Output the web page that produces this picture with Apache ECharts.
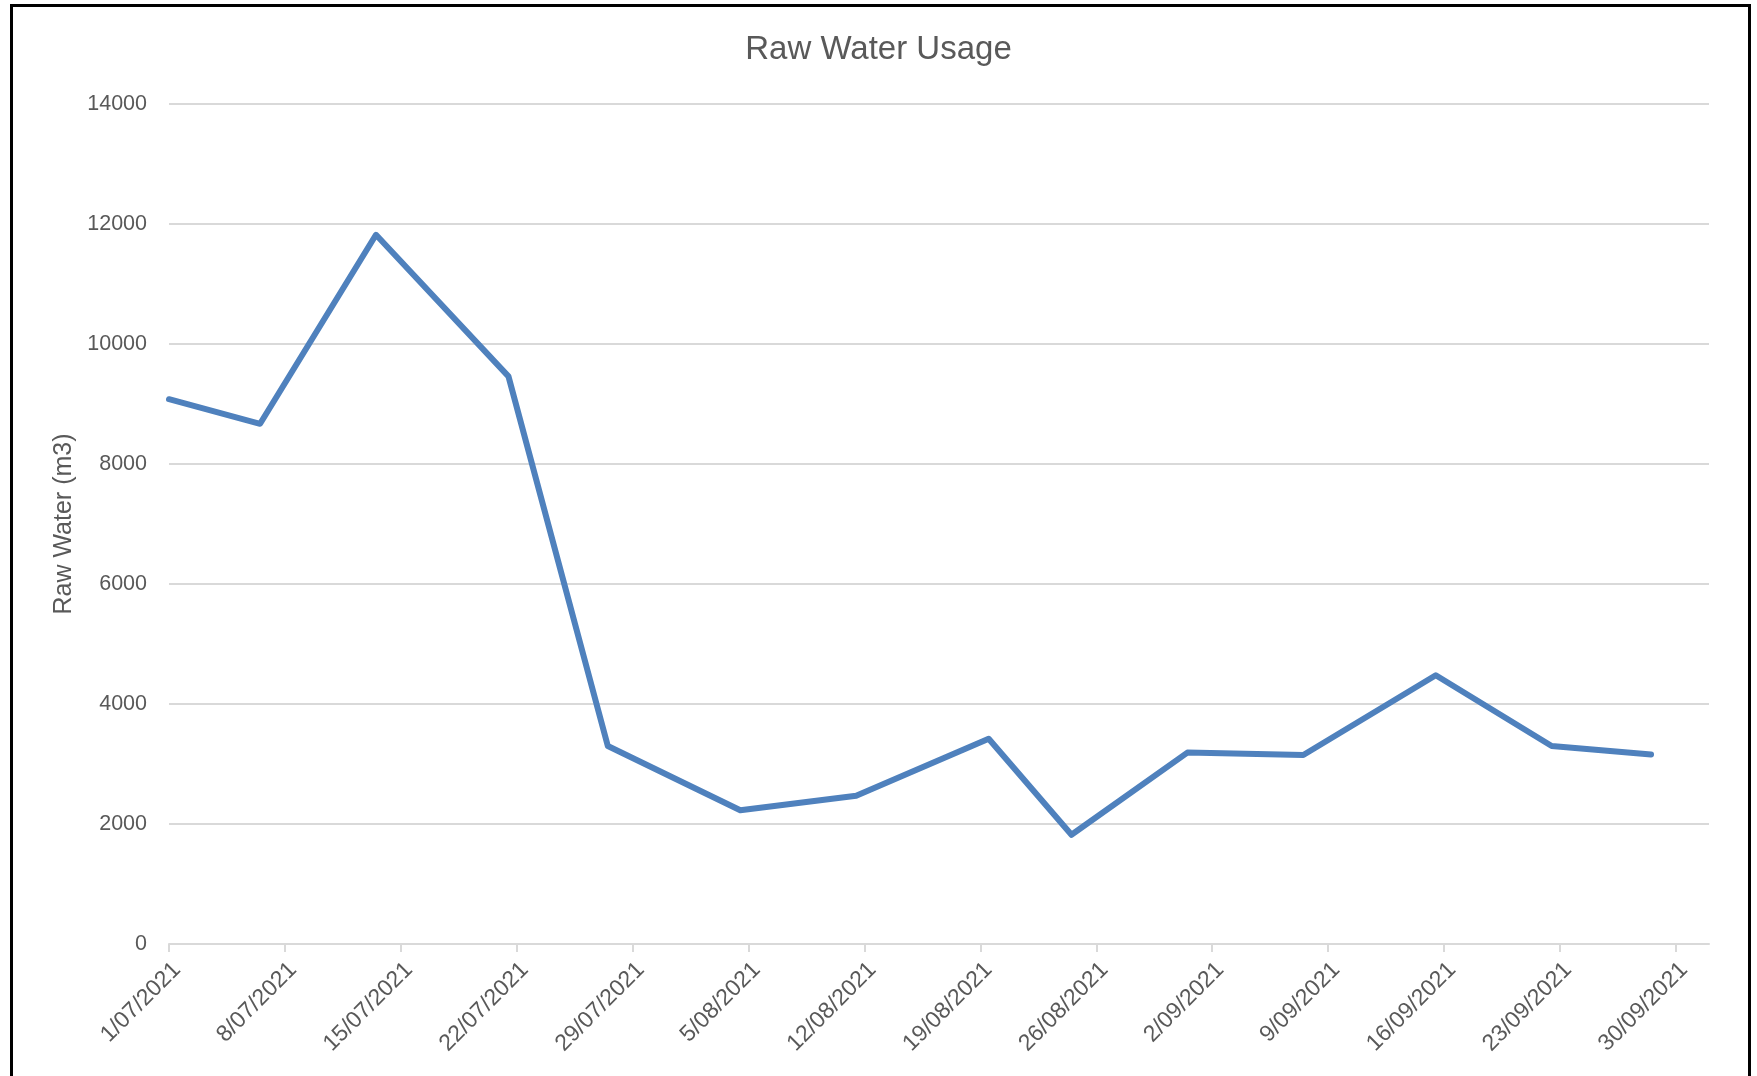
<!DOCTYPE html>
<html>
<head>
<meta charset="utf-8">
<script src="https://cdn.jsdelivr.net/npm/echarts@6/dist/echarts.min.js"></script>
<style>
  html, body { margin: 0; padding: 0; background: #fff; }
  #chart { width: 1757px; height: 1076px; }
  .frame {
    position: absolute; left: 10px; top: 4px; width: 1741px; height: 1100px;
    box-sizing: border-box; border: 3px solid #000; pointer-events: none;
  }
</style>
</head>
<body>
<div id="chart"></div>
<div class="frame"></div>
<script>
// dates (points sit between the weekly ticks)
const dates = ['2021-07-01T00:00', '2021-07-06T12:00', '2021-07-13T12:00', '2021-07-21T12:00',
  '2021-07-27T12:00', '2021-08-04T12:00', '2021-08-11T12:00', '2021-08-19T12:00',
  '2021-08-24T12:00', '2021-08-31T12:00', '2021-09-07T12:00', '2021-09-15T12:00',
  '2021-09-22T12:00', '2021-09-28T12:00']
const usage = [9080, 8670, 11820, 9460, 3300, 2230, 2470, 3420, 1820, 3190, 3150, 4480, 3300, 3160]
const startDate = '2021-07-01T00:00'
const axisEndDay = 93   // axis runs a little past 30/09
const yTicks = { min: 0, max: 14000, step: 2000 }

const DAY = 86400000
const t0 = Date.parse(startDate + 'Z')
const toDay = (s) => (Date.parse(s + 'Z') - t0) / DAY

// d/MM/yyyy like the excel axis
const fmtDay = (v) => {
  if (Math.abs(v % 7) > 1e-6) return ''
  const d = new Date(t0 + v * DAY)
  const mm = String(d.getUTCMonth() + 1).padStart(2, '0')
  return d.getUTCDate() + '/' + mm + '/' + d.getUTCFullYear()
}

const textColor = '#595959'
const font = '"Liberation Sans", Arial, sans-serif'

const myChart = echarts.init(document.getElementById('chart'))
const option = {
  animation: false,
  title: {
    text: 'Raw Water Usage',
    left: 'center',
    top: 28,
    textStyle: { color: textColor, fontFamily: font, fontSize: 33, fontWeight: 'normal' }
  },
  grid: { left: 169, right: 48, top: 104, bottom: 132 },
  xAxis: {
    type: 'value',
    min: 0,
    max: axisEndDay,
    interval: 7,
    axisLine: { show: true, lineStyle: { color: '#d9d9d9', width: 2 } },
    axisTick: { show: true, length: 8, lineStyle: { color: '#d9d9d9', width: 2 } },
    splitLine: { show: false },
    axisLabel: {
      rotate: 45,
      margin: 14,
      verticalAlign: 'top',
      color: textColor,
      fontFamily: font,
      fontSize: 23,
      showMaxLabel: false,
      formatter: fmtDay
    }
  },
  yAxis: {
    type: 'value',
    min: yTicks.min,
    max: yTicks.max,
    interval: yTicks.step,
    name: 'Raw Water (m3)',
    nameLocation: 'middle',
    nameGap: 90,
    nameTextStyle: { color: textColor, fontFamily: font, fontSize: 25 },
    axisLine: { show: false },
    axisTick: { show: false },
    axisLabel: { margin: 22, color: textColor, fontFamily: font, fontSize: 21.5, formatter: (v) => String(v) },
    splitLine: { lineStyle: { color: '#d9d9d9', width: 2 } }
  },
  series: [
    {
      name: 'Raw Water',
      type: 'line',
      showSymbol: false,
      symbol: 'none',
      data: dates.map((d, i) => [toDay(d), usage[i]]),
      lineStyle: { color: '#4f81bd', width: 6, cap: 'round', join: 'round' }
    }
  ]
}
myChart.setOption(option)
</script>
</body>
</html>
